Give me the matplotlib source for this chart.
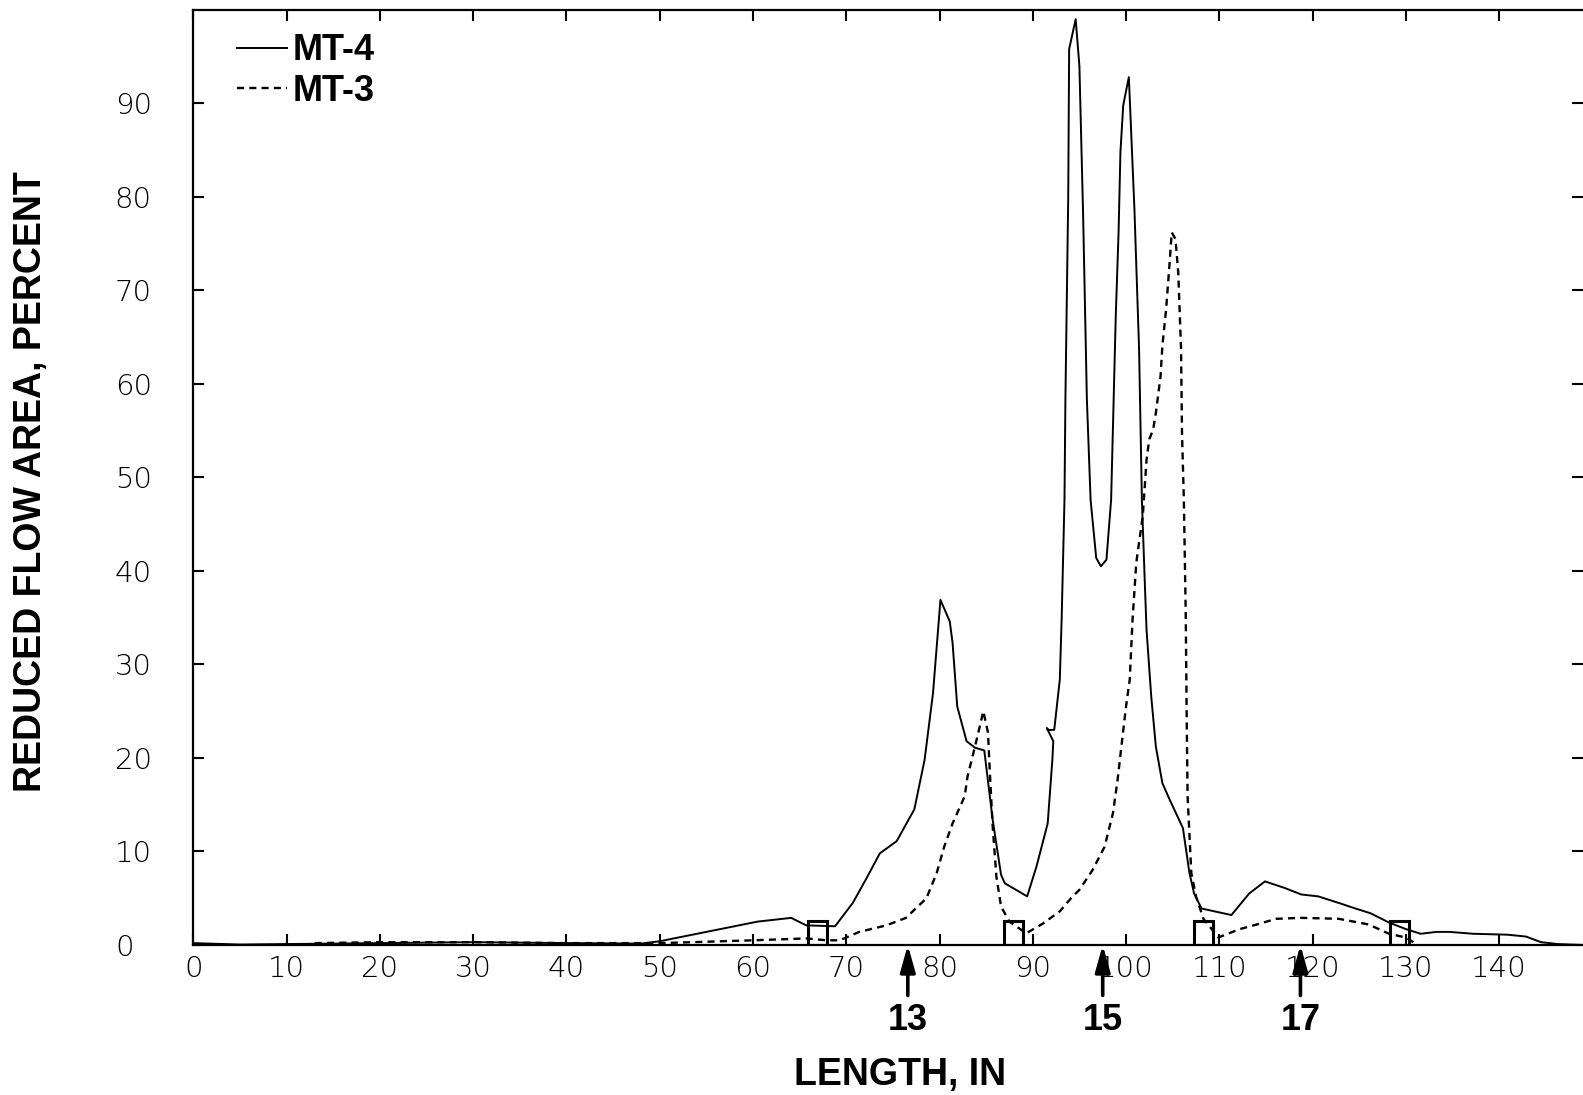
from matplotlib import pyplot as plt
from matplotlib.patches import Rectangle
import matplotlib.transforms as mtransforms

# Curva MT-4 (linha cheia): comprimento (in) e area reduzida (%)
mt4Length = [0, 5, 10, 20, 30, 40, 48, 50, 55, 60.5, 64.1, 65.7, 68.8, 70.7, 72.1, 73.6,
             75.4, 77.3, 78.4, 79.3, 80.1, 81.1, 81.4, 81.9, 82.9, 83.8, 84.8, 85.7, 86.6,
             87.0, 89.4, 90.4, 91.6, 92.1, 92.2, 91.5, 91.7, 92.3, 92.9, 93.1, 93.4, 93.5,
             93.8, 93.9, 94.6, 95.0, 95.4, 95.8, 96.2, 96.8, 97.3, 97.9, 98.4, 98.9, 99.2,
             99.4, 99.7, 100.3, 100.4, 100.9, 101.4, 101.7, 102.0, 102.2, 102.7, 103.2,
             103.9, 104.7, 106.1, 106.8, 107.3, 108.1, 111.3, 113.2, 114.9, 117.0, 118.8,
             120.6, 122.8, 124.6, 126.2, 128.2, 130.0, 131.6, 133.3, 134.7, 137.2, 140.9,
             142.9, 144.5, 146.3, 149]
mt4Area = [0.2, 0.05, 0.1, 0.2, 0.3, 0.2, 0.15, 0.4, 1.4, 2.5, 2.9, 2.1, 2.0, 4.5, 7.0, 9.8,
           11.1, 14.5, 19.8, 26.9, 36.9, 34.6, 32.3, 25.5, 21.8, 21.1, 20.8, 13.4, 7.5,
           6.6, 5.2, 8.4, 13.0, 19.8, 21.8, 23.2, 23.0, 23.0, 28.4, 35.0, 47.6, 58.4,
           79.8, 95.8, 99.0, 94.0, 78.0, 58.4, 47.6, 41.4, 40.5, 41.2, 47.6, 67.3, 76.2,
           84.8, 89.8, 92.8, 90.5, 78.7, 63.7, 47.6, 39.1, 33.7, 26.6, 21.2,
           17.3, 15.5, 12.5, 7.7, 5.5, 3.9, 3.2, 5.5, 6.8, 6.1, 5.4,
           5.2, 4.5, 3.9, 3.4, 2.4, 1.7, 1.2, 1.4, 1.4, 1.2, 1.1,
           0.9, 0.3, 0.1, 0.0]

# Curva MT-3 (linha tracejada)
mt3Length = [13, 20, 30, 40, 50, 51.8, 60, 65.7, 67.9, 69.3, 71.4, 74.3, 76.4, 78.6, 79.7,
             80.5, 81.4, 82.7, 83.0, 83.8, 84.7, 85.2, 85.4, 85.7, 86.1, 86.6, 87.5, 89.3,
             91.1, 92.9, 94.1, 95.0, 96.4, 97.7, 98.6, 99.1, 99.5, 100.0, 100.4, 100.7,
             101.1, 101.8, 102.2, 102.5, 102.9, 103.2, 103.7, 103.9, 104.3, 104.7, 104.9,
             105.3, 105.6, 105.9, 106.0, 106.2, 106.4, 106.5, 106.6, 107.0, 107.5, 108.3,
             109.9, 112.2, 113.7, 116.1, 118.8, 122.8, 126.0, 128.2, 130.0, 131.3]
mt3Area = [0.2, 0.3, 0.3, 0.2, 0.2, 0.25, 0.5, 0.7, 0.5, 0.5, 1.4, 2.1, 2.9, 5.0, 7.7,
           10.5, 13.0, 15.9, 18.0, 21.2, 25.0, 22.7, 18.4, 12.7, 7.3, 4.1, 2.5, 1.25,
           2.3, 3.6, 5.0, 5.9, 8.0, 10.5, 14.1, 17.7, 21.2, 25.5, 28.4, 34.8,
           40.9, 45.9, 51.9, 54.1, 55.1, 56.9, 60.8, 64.1, 68.0, 73.3, 76.2,
           75.5, 71.9, 63.7, 54.8, 47.6, 35.5, 24.8, 15.9, 7.7, 5.2, 2.8,
           0.8, 1.7, 2.1, 2.8, 2.9, 2.8, 2.2, 1.2, 0.8, 0.0]

# Posicoes das grades (quadrados sobre o eixo) e setas numeradas
gridStart = [65.9, 86.9, 107.3, 128.3]
gridWidth = 2.05
gridHeight = 2.55
arrowPos = [76.6, 97.5, 118.7]
arrowLabels = ['13', '15', '17']

xTicks = list(range(0, 150, 10))
yTicks = list(range(0, 100, 10))

plt.rcParams['font.family'] = ['Liberation Sans', 'DejaVu Sans']

fig = plt.figure(figsize=(15.83, 10.95), dpi=100)
ax = fig.add_axes([0.1222, 0.137, 0.8778, 0.854])

ax.plot(mt4Length, mt4Area, color='black', lw=1.4, label='MT-4')
ax.plot(mt3Length, mt3Area, color='black', lw=1.7, linestyle=(0, (3, 2.2)), label='MT-3')

for start in gridStart:
    ax.add_patch(Rectangle((start, 0), gridWidth, gridHeight, fill=False,
                           edgecolor='black', lw=2.2, zorder=3))

for pos, lab in zip(arrowPos, arrowLabels):
    ax.annotate('', xy=(pos, 0), xytext=(pos, -5.4), annotation_clip=False,
                arrowprops=dict(arrowstyle='-|>,head_length=1.6,head_width=0.45',
                                color='black', lw=2.6, shrinkA=0, shrinkB=0))
    ax.text(pos, -8.1, lab, ha='center', va='center', fontsize=26,
            fontweight='bold', clip_on=False)

ax.set_xlim(0, 149)
ax.set_ylim(0, 100)
ax.set_xticks(xTicks)
ax.set_yticks(yTicks)
ax.tick_params(direction='in', length=8, width=1.5, top=True, right=True,
               labelsize=21)
ax.tick_params(axis='y', pad=30)
ax.tick_params(axis='x', pad=7)
for lab in ax.get_xticklabels() + ax.get_yticklabels():
    lab.set_fontfamily(['DejaVu Sans'])
    lab.set_fontweight('light')

# o "0" do eixo y fica um pouco mais a esquerda no original
zeroLabel = ax.get_yticklabels()[0]
zeroLabel.set_transform(zeroLabel.get_transform() +
                        mtransforms.ScaledTranslation(-18 / 100, 0, fig.dpi_scale_trans))

for side in ['left', 'bottom', 'top']:
    ax.spines[side].set_linewidth(1.6)
ax.spines['right'].set_visible(False)

fig.text(0.5686, 0.018, 'LENGTH, IN', ha='center', va='center', fontsize=27,
         fontweight='bold')
fig.text(0.0196, 0.56, 'REDUCED FLOW AREA, PERCENT', ha='center', va='center',
         rotation=90, fontsize=27, fontweight='bold')

ax.legend(loc='upper left', bbox_to_anchor=(0.031, 0.975), frameon=False,
          borderaxespad=0, borderpad=0, handlelength=1.4, handletextpad=0.15,
          labelspacing=0.15, prop={'weight': 'bold', 'size': 26})

fig.savefig('out.png', dpi=100)
